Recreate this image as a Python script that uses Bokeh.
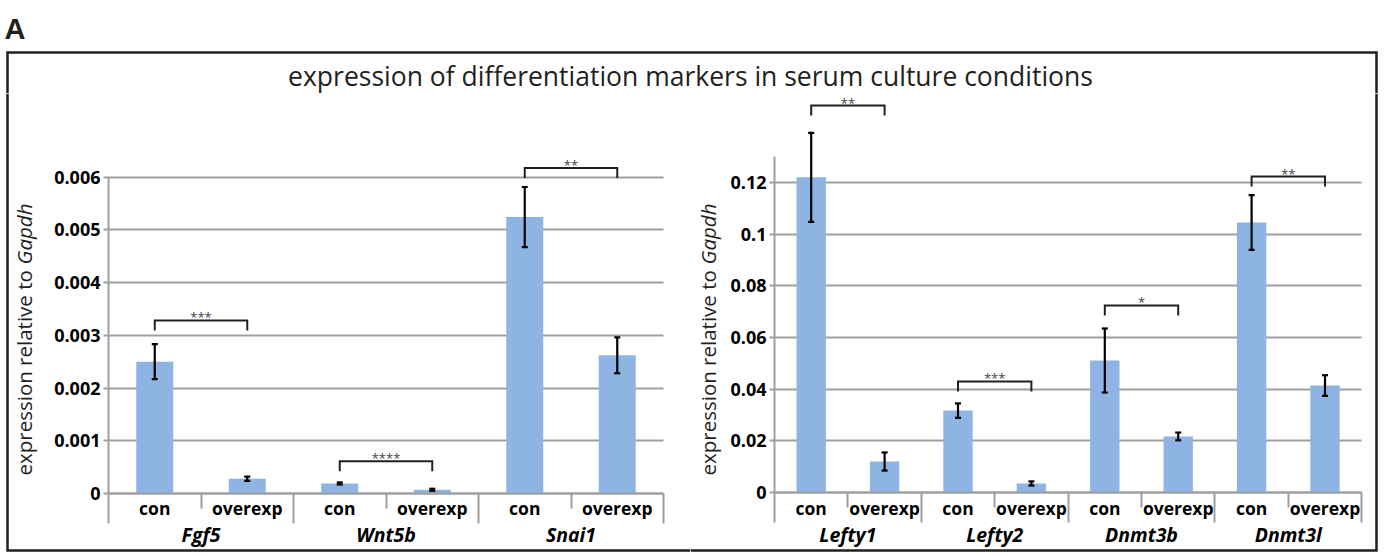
import math
from bokeh.plotting import figure
from bokeh.models import (ColumnDataSource, Range1d, FixedTicker, Whisker,
                          TeeHead, LinearAxis)
from bokeh.layouts import column, row
from bokeh.embed import file_html
from bokeh.resources import INLINE
from bokeh.core.properties import value

# ---------------- data ----------------
PANEL_LABEL = "A"
TITLE = "expression of differentiation markers in serum culture conditions"
YLABEL_MAIN = "expression relative to "
YLABEL_GENE = "Gapdh"
CONDS = ["con", "overexp"]

GENES_L = ["Fgf5", "Wnt5b", "Snai1"]
CON_L = [0.00250, 0.00019, 0.00524]
CON_ERR_L = [0.00033, 0.00002, 0.00057]
OVR_L = [0.00028, 0.00007, 0.00262]
OVR_ERR_L = [0.00004, 0.00002, 0.00034]
SIG_L = ["***", "****", "**"]
BRACKET_L = [0.00328, 0.00061, 0.00617]
YTICKS_L = [0, 0.001, 0.002, 0.003, 0.004, 0.005, 0.006]
YLABELS_L = ["0", "0.001", "0.002", "0.003", "0.004", "0.005", "0.006"]

GENES_R = ["Lefty1", "Lefty2", "Dnmt3b", "Dnmt3l"]
CON_R = [0.1220, 0.0317, 0.0511, 0.1045]
CON_ERR_R = [0.0172, 0.0028, 0.0124, 0.0106]
OVR_R = [0.0120, 0.0035, 0.0217, 0.0414]
OVR_ERR_R = [0.0035, 0.0008, 0.0015, 0.0040]
SIG_R = ["**", "***", "*", "**"]
BRACKET_R = [0.1498, 0.0430, 0.0724, 0.1223]
YTICKS_R = [0, 0.02, 0.04, 0.06, 0.08, 0.1, 0.12]
YLABELS_R = ["0", "0.02", "0.04", "0.06", "0.08", "0.1", "0.12"]

# ---------------- style / layout ----------------
BAR = "#8db4e2"
GRAY = "#9f9f9f"
DARK = "#231f20"
FONT = "Open Sans"
PAGE_W = 1384
HEADER_H = 93
PANEL_H = 462
BOX_L, BOX_R, BOX_T, BOX_B = 7, 1376, 52, 550
BOX_LW = 2.5


def make_panel(genes, con, con_err, ovr, ovr_err, sig, brk, yticks, ylabels,
               y_axis_max, page_left, width, x0px, ppx, y0py, ppy, ylab_px, side):
    def X(px):
        return (px - x0px) / ppx

    def Y(py):
        return (y0py - py) / ppy

    top_py, bot_py = HEADER_H, HEADER_H + PANEL_H
    p = figure(width=width, height=PANEL_H,
               x_range=Range1d(X(page_left), X(page_left + width)),
               y_range=Range1d(Y(bot_py), Y(top_py)),
               x_axis_location=None, y_axis_location=None, min_border=0,
               toolbar_location=None, output_backend="svg",
               outline_line_color=None)
    p.grid.visible = False
    n = 2 * len(genes)

    xs, tops, errs = [], [], []
    for i in range(len(genes)):
        xs += [2 * i + 0.5, 2 * i + 1.5]
        tops += [con[i], ovr[i]]
        errs += [con_err[i], ovr_err[i]]

    # y axis: ticks drawn across the plot act as the horizontal grid lines
    yaxis = LinearAxis(fixed_location=0, ticker=FixedTicker(ticks=yticks),
                       major_label_overrides=dict(zip(yticks, ylabels)),
                       bounds=(0, y_axis_max), level="underlay",
                       axis_line_color=GRAY, axis_line_width=2,
                       major_tick_line_color=GRAY, major_tick_line_width=2,
                       major_tick_out=5, major_tick_in=int(round(n * ppx)),
                       minor_tick_line_color=None, major_label_standoff=3,
                       major_label_text_font=FONT,
                       major_label_text_font_size="18px",
                       major_label_text_font_style="bold",
                       major_label_text_color="black")
    p.add_layout(yaxis, "left")

    src = ColumnDataSource(dict(x=xs, top=tops,
                                up=[t + e for t, e in zip(tops, errs)],
                                lo=[t - e for t, e in zip(tops, errs)]))
    p.vbar(x="x", top="top", width=0.4, source=src, fill_color=BAR,
           line_color=None)

    # x axis: group separators (major) and condition separators (minor)
    bticks = list(range(0, n + 1, 2))
    xaxis = LinearAxis(fixed_location=0,
                       ticker=FixedTicker(ticks=bticks,
                                          minor_ticks=list(range(1, n, 2))),
                       bounds=(0, n),
                       major_label_overrides={t: "" for t in bticks},
                       axis_line_color=GRAY, axis_line_width=2,
                       major_tick_line_color=GRAY, major_tick_line_width=2,
                       major_tick_out=30, major_tick_in=0,
                       minor_tick_line_color=GRAY, minor_tick_line_width=2,
                       minor_tick_out=15, minor_tick_in=0)
    p.add_layout(xaxis, "below")

    p.add_layout(Whisker(base="x", upper="up", lower="lo", source=src,
                         level="annotation", line_color="black", line_width=2.2,
                         upper_head=TeeHead(size=6, line_color="black", line_width=2.2),
                         lower_head=TeeHead(size=6, line_color="black", line_width=2.2)))

    # significance brackets
    leg = 10 / ppy
    bx, by = [], []
    for i in range(len(genes)):
        a, b = 2 * i + 0.5, 2 * i + 1.5
        bx.append([a, a, b, b])
        by.append([brk[i] - leg, brk[i], brk[i], brk[i] - leg])
    p.multi_line(bx, by, line_color=DARK, line_width=2, line_join="miter")
    p.text(x=[2 * i + 1 for i in range(len(genes))],
           y=[v + 3 / ppy for v in brk], text=sig,
           text_align="center", text_baseline="alphabetic",
           text_font_size="13px", text_color="#444444", text_font=value(FONT))

    # category labels
    p.text(x=xs, y=[Y(507)] * n, text=CONDS * len(genes), text_align="center",
           text_baseline="middle", text_font=value(FONT),
           text_font_size="17.5px", text_font_style="bold", text_color="black")
    p.text(x=[2 * i + 1 for i in range(len(genes))], y=[Y(534)] * len(genes),
           text=genes, text_align="center", text_baseline="middle",
           text_font=value(FONT), text_font_size="19.5px",
           text_font_style="bold italic", text_color="black")

    # y axis title (roman + italic gene name)
    p.text(x=[X(ylab_px)], y=[Y(475)], text=[YLABEL_MAIN], angle=math.pi / 2,
           text_align="left", text_baseline="middle", text_font=value(FONT),
           text_font_size="20.5px", text_color=DARK)
    p.text(x=[X(ylab_px)], y=[Y(203)], text=[YLABEL_GENE], angle=math.pi / 2,
           text_align="right", text_baseline="middle", text_font=value(FONT),
           text_font_size="20.5px", text_font_style="italic", text_color=DARK)

    # frame box pieces
    if side == "left":
        fx = [X(BOX_L), X(BOX_L), X(page_left + width)]
        fy = [Y(top_py), Y(BOX_B), Y(BOX_B)]
    else:
        fx = [X(page_left), X(BOX_R), X(BOX_R)]
        fy = [Y(BOX_B), Y(BOX_B), Y(top_py)]
    p.line(fx, fy, line_color=DARK, line_width=BOX_LW, line_join="miter")
    return p


p1 = make_panel(GENES_L, CON_L, CON_ERR_L, OVR_L, OVR_ERR_L, SIG_L, BRACKET_L,
                YTICKS_L, YLABELS_L, 0.006, 0, 690, 108, 92.5, 493, 52750, 23,
                "left")
p2 = make_panel(GENES_R, CON_R, CON_ERR_R, OVR_R, OVR_ERR_R, SIG_R, BRACKET_R,
                YTICKS_R, YLABELS_R, 0.13, 690, 694, 774, 73.4, 492, 2583, 707,
                "right")

# header: panel letter, title, top of the frame box
h = figure(width=PAGE_W, height=HEADER_H, x_range=Range1d(0, PAGE_W),
           y_range=Range1d(HEADER_H, 0), output_backend="svg",
           toolbar_location=None, x_axis_location=None, y_axis_location=None,
           min_border=0, outline_line_color=None)
h.grid.visible = False
h.text(x=[4], y=[28], text=[PANEL_LABEL], text_font=value("Liberation Sans"),
       text_font_style="bold", text_font_size="29px", text_color=DARK,
       text_baseline="alphabetic", text_align="left")
h.text(x=[690], y=[75], text=[TITLE], text_font=value(FONT),
       text_font_size="26.5px", text_color=DARK, text_baseline="middle",
       text_align="center")
h.line([BOX_L, BOX_L, BOX_R, BOX_R], [HEADER_H, BOX_T, BOX_T, HEADER_H],
       line_color=DARK, line_width=BOX_LW, line_join="miter")

layout = column(h, row(p1, p2))
open("out.html", "w").write(file_html(layout, INLINE))
